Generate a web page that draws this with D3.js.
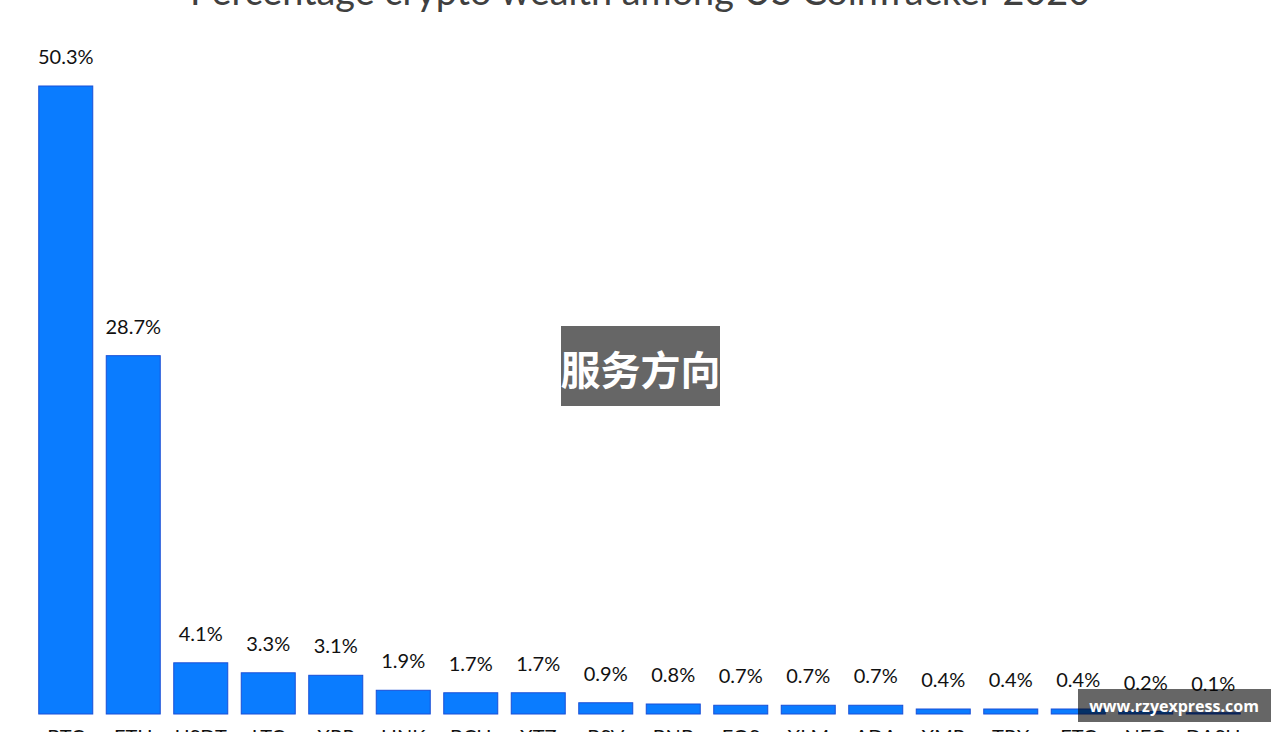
<!DOCTYPE html>
<html><head><meta charset="utf-8">
<script src="https://cdn.jsdelivr.net/npm/d3@7"></script>
<style>body{margin:0;background:#fff;overflow:hidden}svg{display:block}</style>
</head><body>
<svg id="c" width="1280" height="732"></svg>
<script>
const titleText = "Percentage crypto wealth among US CoinTracker 2020";
const categories = ["BTC","ETH","USDT","LTC","XRP","LINK","BCH","XTZ","BSV","BNB","EOS","XLM","ADA","XMR","TRX","ETC","NEO","DASH"];
const values = [50.3,28.7,4.1,3.3,3.1,1.9,1.7,1.7,0.9,0.8,0.7,0.7,0.7,0.4,0.4,0.4,0.2,0.1];
const labels = ["50.3%","28.7%","4.1%","3.3%","3.1%","1.9%","1.7%","1.7%","0.9%","0.8%","0.7%","0.7%","0.7%","0.4%","0.4%","0.4%","0.2%","0.1%"];
const watermarkCenter = "服务方向";
const watermarkCorner = "www.rzyexpress.com";

const svg = d3.select("#c");
const x = d3.scaleBand().domain(categories).range([32, 1247]).paddingInner(0.2).paddingOuter(0.1);
const y = d3.scaleLinear().domain([0, 50.3]).range([714, 86]);
const font = "Lato, 'Open Sans', sans-serif";

svg.append("text").attr("x", 640).attr("y", 5).attr("text-anchor", "middle")
  .attr("font-family", font).attr("font-size", 37.8).attr("fill", "#404040").text(titleText);

const data = categories.map((c,i)=>({c, v: values[i], l: labels[i]}));
svg.selectAll("rect.bar").data(data).join("rect").attr("class","bar")
  .attr("x", d=>x(d.c)).attr("width", x.bandwidth())
  .attr("y", d=>y(d.v)).attr("height", d=>y(0)-y(d.v))
  .attr("fill", "#0a7cff").attr("stroke", "#1a4fd6").attr("stroke-width", 1);

svg.selectAll("text.val").data(data).join("text").attr("class","val")
  .attr("x", d=>x(d.c)+x.bandwidth()/2).attr("y", d=>y(d.v)-22)
  .attr("text-anchor","middle").attr("font-family", font).attr("font-size", 20).attr("fill","#111").text(d=>d.l);

const xAxis = d3.axisBottom(x).tickSize(0).tickPadding(16);
const ax = svg.append("g").attr("transform", `translate(0,${y(0)})`).call(xAxis);
ax.select(".domain").remove();
ax.selectAll("text").attr("font-family", font).attr("font-size", 20).attr("fill","#111");

// watermarks
svg.append("rect").attr("x",561).attr("y",326).attr("width",159).attr("height",80).attr("fill","#666");
svg.append("text").attr("x",640.5).attr("y",385).attr("text-anchor","middle")
  .attr("font-family","'Noto Sans CJK SC', sans-serif").attr("font-weight","bold").attr("font-size",40).attr("fill","#fff").text(watermarkCenter);
svg.append("rect").attr("x",1078).attr("y",689).attr("width",193).attr("height",33).attr("fill","rgba(0,0,0,0.6)");
svg.append("text").attr("x",1174).attr("y",712).attr("text-anchor","middle")
  .attr("font-family","'Open Sans', sans-serif").attr("font-weight","bold").attr("font-size",16).attr("fill","#fff").text(watermarkCorner);
</script>
</body></html>
